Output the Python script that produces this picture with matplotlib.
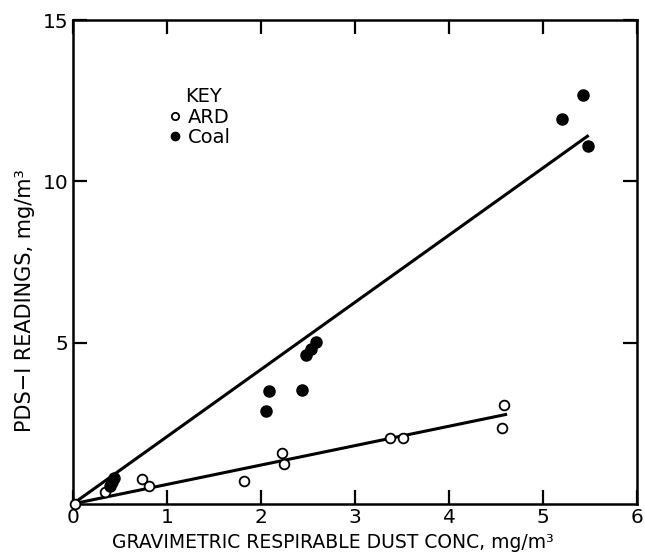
import matplotlib.pyplot as plt

# values (mg/m3)
ard_x = [0.02, 0.34, 0.73, 0.81, 1.82, 2.22, 2.24, 3.37, 3.51, 4.56, 4.58]
ard_y = [0.0, 0.37, 0.77, 0.54, 0.72, 1.57, 1.25, 2.05, 2.05, 2.34, 3.08]

coal_x = [0.39, 0.42, 0.44, 2.05, 2.09, 2.44, 2.48, 2.53, 2.58, 5.20, 5.42, 5.48]
coal_y = [0.56, 0.68, 0.80, 2.87, 3.49, 3.52, 4.62, 4.80, 5.01, 11.93, 12.67, 11.11]

# hand-drawn fit lines (endpoints)
ard_fit_x = [0.0, 4.60]
ard_fit_y = [0.0, 2.77]
coal_fit_x = [0.0, 5.47]
coal_fit_y = [0.0, 11.40]

xticks = [0, 1, 2, 3, 4, 5, 6]
yticks = [5, 10, 15]

plt.rcParams['font.family'] = ['DejaVu Sans']

fig = plt.figure(figsize=(6.45, 5.58), dpi=100)
ax = fig.add_axes([0.113, 0.097, 0.875, 0.867])

ax.plot(coal_fit_x, coal_fit_y, color='black', lw=2.2, zorder=2)
ax.plot(ard_fit_x, ard_fit_y, color='black', lw=2.2, zorder=2)

ax.plot(ard_x, ard_y, 'o', ms=7, mfc='white', mec='black', mew=1.3,
        ls='none', label='ARD', zorder=3, clip_on=False)
ax.plot(coal_x, coal_y, 'o', ms=8, mfc='black', mec='black',
        ls='none', label='Coal', zorder=3, clip_on=False)

ax.set_xlim(0, 6)
ax.set_ylim(0, 15)
ax.set_xticks(xticks)
ax.set_yticks(yticks)
ax.tick_params(direction='in', length=10, width=1.6, labelsize=14.5,
               top=True, right=True, pad=3)
for s in ax.spines.values():
    s.set_linewidth(1.8)

ax.set_xlabel('GRAVIMETRIC RESPIRABLE DUST CONC, mg/m³', fontsize=13.5)
ax.xaxis.set_label_coords(0.46, -0.06)
ax.set_ylabel('PDS\u2212I READINGS, mg/m³', fontsize=15)
ax.yaxis.set_label_coords(-0.068, 0.42)

ax.text(0.199, 0.842, 'KEY', transform=ax.transAxes, fontsize=14, va='center')
ax.legend(frameon=False, loc='upper left', bbox_to_anchor=(0.168, 0.818),
          borderpad=0, borderaxespad=0, fontsize=14,
          handletextpad=0.25, handlelength=0.8, labelspacing=0.05,
          markerscale=0.75)

fig.savefig('out.png', dpi=100)
